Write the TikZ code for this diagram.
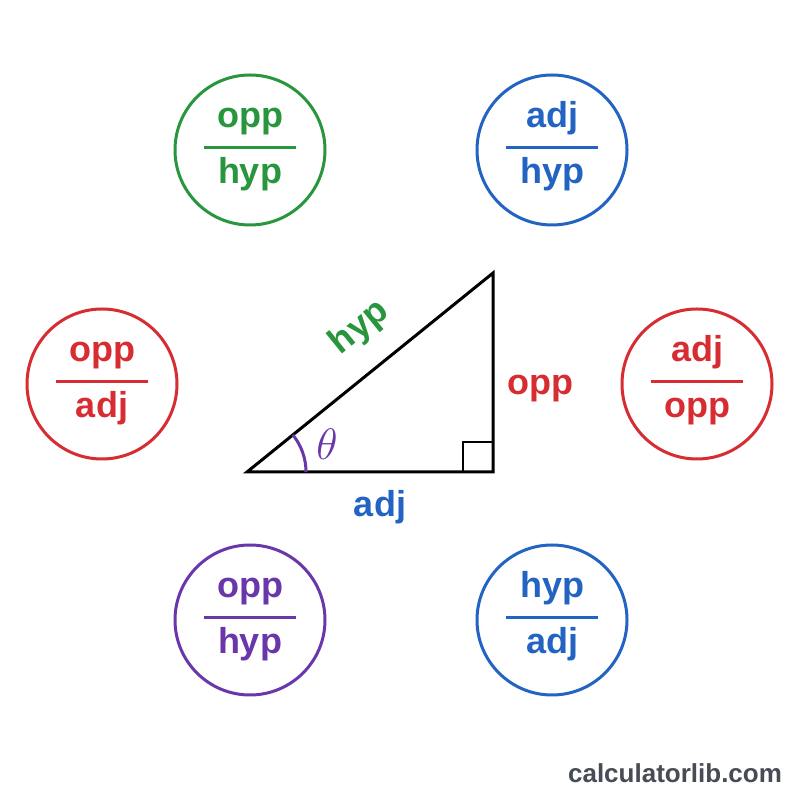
\RequirePackage{fix-cm}
\documentclass[tikz,border=0pt]{standalone}
\usepackage{fontspec}
\setmainfont{Liberation Sans}
\usepackage{xcolor}
\definecolor{ratiogreen}{RGB}{40,150,60}
\definecolor{ratioblue}{RGB}{35,100,195}
\definecolor{ratiored}{RGB}{215,45,50}
\definecolor{ratiopurple}{RGB}{105,55,170}
\definecolor{sitegray}{RGB}{70,75,85}

\begin{document}
\begin{tikzpicture}[x=1pt, y=1pt,
  ring/.style={circle, draw, line width=3pt, minimum size=150pt, inner sep=0pt},
  word/.style={font=\fontsize{36}{42}\selectfont\bfseries, anchor=base, inner sep=0pt},
  bar/.style={line width=3pt}]
  \useasboundingbox[fill=white] (0,0) rectangle (800,800);

  % ratio circles
  \node[ring, draw=ratiogreen] (sinA) at (250,650) {};
  \node[word, ratiogreen] (sinAnum) at ([yshift=22pt]sinA.center) {opp};
  \node[word, ratiogreen] (sinAden) at ([yshift=-34pt]sinA.center) {hyp};
  \draw[bar, ratiogreen] ([xshift=-46pt,yshift=2pt]sinA.center) -- ([xshift=46pt,yshift=2pt]sinA.center);

  \node[ring, draw=ratioblue] (cosA) at (552,650) {};
  \node[word, ratioblue] (cosAnum) at ([yshift=22pt]cosA.center) {adj};
  \node[word, ratioblue] (cosAden) at ([yshift=-34pt]cosA.center) {hyp};
  \draw[bar, ratioblue] ([xshift=-46pt,yshift=2pt]cosA.center) -- ([xshift=46pt,yshift=2pt]cosA.center);

  \node[ring, draw=ratiored] (tanA) at (102,416) {};
  \node[word, ratiored] (tanAnum) at ([yshift=22pt]tanA.center) {opp};
  \node[word, ratiored] (tanAden) at ([yshift=-34pt]tanA.center) {adj};
  \draw[bar, ratiored] ([xshift=-46pt,yshift=2pt]tanA.center) -- ([xshift=46pt,yshift=2pt]tanA.center);

  \node[ring, draw=ratiored] (cotA) at (697,416) {};
  \node[word, ratiored] (cotAnum) at ([yshift=22pt]cotA.center) {adj};
  \node[word, ratiored] (cotAden) at ([yshift=-34pt]cotA.center) {opp};
  \draw[bar, ratiored] ([xshift=-46pt,yshift=2pt]cotA.center) -- ([xshift=46pt,yshift=2pt]cotA.center);

  \node[ring, draw=ratiopurple] (cscA) at (250,180) {};
  \node[word, ratiopurple] (cscAnum) at ([yshift=22pt]cscA.center) {opp};
  \node[word, ratiopurple] (cscAden) at ([yshift=-34pt]cscA.center) {hyp};
  \draw[bar, ratiopurple] ([xshift=-46pt,yshift=2pt]cscA.center) -- ([xshift=46pt,yshift=2pt]cscA.center);

  \node[ring, draw=ratioblue] (secA) at (552,180) {};
  \node[word, ratioblue] (secAnum) at ([yshift=22pt]secA.center) {hyp};
  \node[word, ratioblue] (secAden) at ([yshift=-34pt]secA.center) {adj};
  \draw[bar, ratioblue] ([xshift=-46pt,yshift=2pt]secA.center) -- ([xshift=46pt,yshift=2pt]secA.center);

  % triangle
  \coordinate (A) at (247,328);
  \coordinate (B) at (493,328);
  \coordinate (C) at (493,527);
  \draw[line width=3pt] (A) -- (B) -- (C) -- cycle;
  \draw[line width=2.5pt] ([xshift=-30pt]B) -- ([xshift=-30pt,yshift=30pt]B) -- ([yshift=30pt]B);
  \draw[ratiopurple, line width=3pt] ([xshift=59pt]A) arc[start angle=0, end angle=39, radius=59pt];

  \node[word, ratiored] (opp) at (540,405) {opp};
  \node[word, ratioblue] (adj) at (380,283) {adj};
  \node[word, ratiogreen, anchor=center, rotate=39] (hyp) at (360,472) {hyp};
  \node[font=\fontsize{44}{50}\selectfont, ratiopurple, inner sep=0pt] (theta) at (327,356) {$\theta$};

  \node[font=\fontsize{26}{30}\selectfont\bfseries, sitegray] (site) at (675,27) {calculatorlib.com};
\end{tikzpicture}
\end{document}
